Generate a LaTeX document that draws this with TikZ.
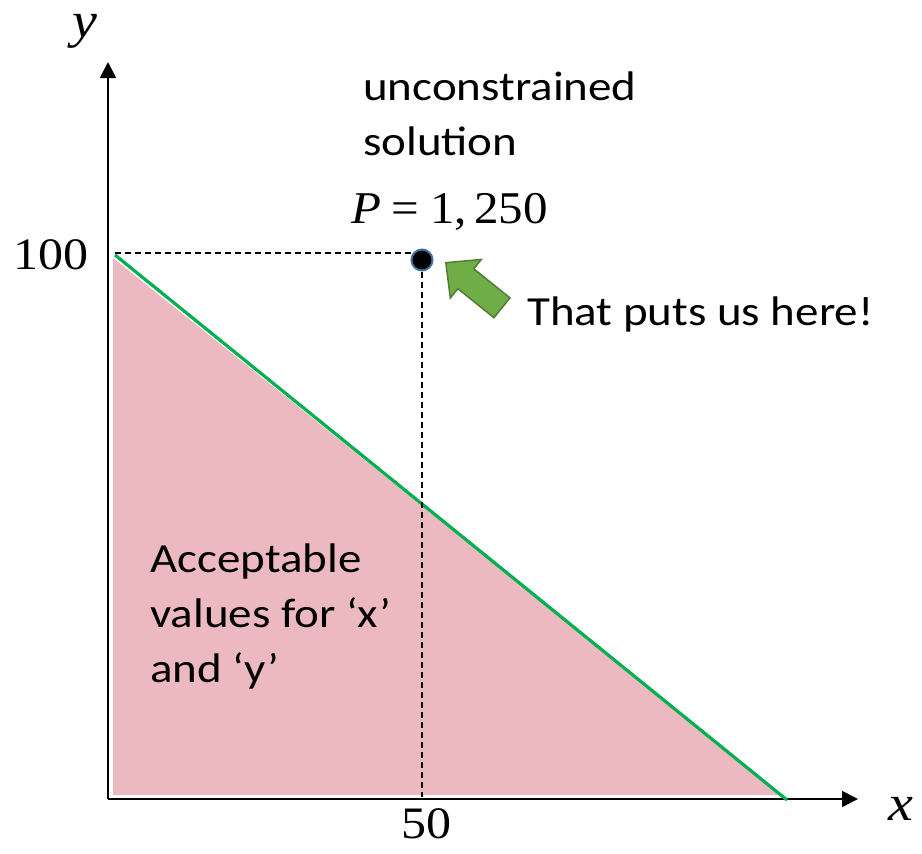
\documentclass[tikz,border=0pt]{standalone}
\usepackage{fontspec}
\setmainfont{Liberation Serif}
\newfontfamily\calfont{Carlito}
\usetikzlibrary{arrows.meta,shapes.arrows}
\definecolor{pinkfill}{RGB}{236,185,192}
\definecolor{lgreen}{RGB}{0,176,80}
\definecolor{arrowgreen}{RGB}{112,173,71}
\definecolor{arrowedge}{RGB}{80,126,50}
\definecolor{ptedge}{RGB}{65,113,156}
\begin{document}
\begin{tikzpicture}[x=1pt,y=-1pt,
  axis/.style={line width=1.8pt, -{Triangle[length=16pt,width=16pt]}},
  guide/.style={line width=1.3pt, dash pattern=on 6pt off 4pt},
  lbl/.style={font=\calfont\fontsize{47}{62}\selectfont, inner sep=0pt, yscale=0.88, align=left},
  num/.style={font=\fontsize{50}{60}\selectfont, inner sep=0pt, yscale=0.9},
  var/.style={font=\fontsize{56}{60}\selectfont\itshape, inner sep=0pt, yscale=0.9},
]
\useasboundingbox (0,0) rectangle (922,854);
\coordinate (O) at (108,799);
\coordinate (ytop) at (108,62);
\coordinate (xend) at (858,799);
\coordinate (A) at (115,255);
\coordinate (B) at (787,800);
\fill[pinkfill] (113,258) -- (113,795) -- (782,795) -- cycle;
\draw[axis] (O) -- (ytop);
\draw[axis] (O) -- (xend);
\draw[lgreen, line width=3.2pt] (A) -- (B);
\node[circle, fill=black, draw=ptedge, line width=2pt, minimum size=21pt, inner sep=0pt] (P) at (422,260) {};
\coordinate (ylevel) at (115,253);
\coordinate (xfoot) at (422,797);
\draw[guide] (ylevel) -- (ylevel -| P.west);
\draw[guide] (P.south) -- (xfoot);
\node[single arrow, draw=arrowedge, fill=arrowgreen, line width=1.5pt,
      minimum height=72pt, minimum width=0pt, inner sep=0pt, inner ysep=12pt,
      single arrow head extend=12pt, single arrow tip angle=88, anchor=tip, rotate=141.2] (arr) at (445,262) {};
\node[lbl, anchor=base west] (unc) at (363,155) {unconstrained\\solution};
\node[lbl, anchor=base west] (here) at (527,325) {That puts us here!};
\node[lbl, anchor=base west] (acc) at (150,682) {Acceptable\\values for ‘x’\\and ‘y’};
\node[num, anchor=base west, font=\fontsize{49}{60}\selectfont, yscale=1.03] (plab) at (351,223) {\textit{P}\hspace{0.22em}=\hspace{0.22em}1,\hspace{0.15em}250};
\node[num, anchor=base east] (hundred) at (89,269) {100};
\node[num, anchor=base] (fifty) at (426,838) {50};
\node[var, anchor=base west] (xl) at (888,820) {x};
\node[var, anchor=base west] (yl) at (72,37) {y};
\end{tikzpicture}
\end{document}
